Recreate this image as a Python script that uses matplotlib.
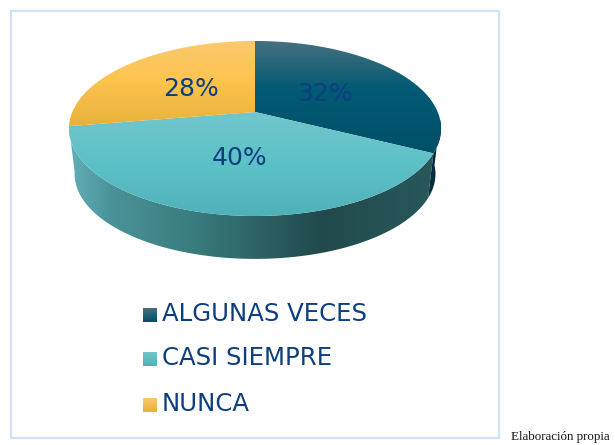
import numpy as np
import matplotlib
matplotlib.use("Agg")
import matplotlib.pyplot as plt
from matplotlib.colors import LinearSegmentedColormap
from matplotlib.patches import Polygon, Rectangle

categories = ["ALGUNAS VECES", "CASI SIEMPRE", "NUNCA"]
values = [32.4, 40.0, 27.6]

TXT = "#0d3f80"
# perspective of the pie, in pixels
cx, cy = 255, 112
bx, ay, p = 182.7, 84.4, 0.1886
depth, shrink = 46, 0.97

def rim(ang, r=1.0, low=False):
    # ang in degrees clockwise from 12 o'clock
    a = np.radians(ang)
    u = r*np.sin(a); v = r*np.cos(a)
    w = 1 + p*v
    s = shrink if low else 1
    return cx + s*bx*u/w, cy + (depth if low else 0) - s*ay*v/w

def grad(ax, poly, stops, y0, y1, vertical=True):
    # paints a gradient clipped to poly
    cm = LinearSegmentedColormap.from_list("g", [((t-y0)/(y1-y0), c) for t, c in stops])
    g = np.linspace(0, 1, 256)
    if vertical:
        im = ax.imshow(g[:, None], cmap=cm, extent=(0, 615, y1, y0), aspect="auto", zorder=poly.get_zorder())
    else:
        im = ax.imshow(g[None, :], cmap=cm, extent=(y0, y1, 445, 0), aspect="auto", zorder=poly.get_zorder())
    poly.set(fc="none", ec="none")
    ax.add_patch(poly)
    im.set_clip_path(poly)

top_stops = [
    [(41, "#46707f"), (90, "#005a73"), (155, "#004f68")],
    [(112, "#72c6cc"), (160, "#5dc2c8"), (216, "#4fb2b8")],
    [(41, "#fbc96e"), (80, "#fdc44e"), (128, "#e6b13a")],
]
side_stops = [(69, "#62b0b8"), (110, "#4b9399"), (200, "#377a7c"), (320, "#224a4c"), (435, "#28585a")]
dark_side = [(425, "#0a3a48"), (441, "#00202c")]

fig = plt.figure(figsize=(6.15, 4.45), dpi=100)
ax = fig.add_axes([0, 0, 1, 1])

edges = np.cumsum([0] + values)*3.6

# outer wall first
def wall(a0, a1):
    t = np.linspace(a0, a1, 150)
    xt, yt = rim(t)
    xb, yb = rim(t[::-1], low=True)
    return Polygon(np.c_[np.r_[xt, xb], np.r_[yt, yb]], closed=True, zorder=1)

grad(ax, wall(edges[1], edges[2]), side_stops, 69, 435, vertical=False)
grad(ax, wall(95, edges[1]), dark_side, 425, 441, vertical=False)

# top face
for i in range(3):
    t = np.linspace(edges[i], edges[i+1], 150)
    xs, ys = rim(t)
    poly = Polygon(np.c_[np.r_[cx, xs], np.r_[cy, ys]], closed=True, zorder=2)
    grad(ax, poly, top_stops[i], top_stops[i][0][0], top_stops[i][-1][0])

# percent labels, a bit lower than the middle of the glyph box
for i in range(3):
    lx, ly = rim((edges[i]+edges[i+1])/2, r=0.48)
    ax.text(lx-1, ly+2, "%d%%" % round(values[i]), color=TXT, fontsize=18, ha="center", va="center",
            family="DejaVu Sans", zorder=3)

# legend
leg_y = [315, 359, 405]
for i in range(3):
    sq = Rectangle((143, leg_y[i]-7), 14, 14, zorder=2)
    grad(ax, sq, [(leg_y[i]-7, top_stops[i][0][1]), (leg_y[i]+7, top_stops[i][-1][1])], leg_y[i]-7, leg_y[i]+7)
    ax.text(162, leg_y[i]-1, categories[i], color=TXT, fontsize=17.6, va="center", family="DejaVu Sans", zorder=3)

# frame
ax.add_patch(Rectangle((10.5, 11), 488.5, 427, fc="none", ec="#cfe2fb", lw=1.6, zorder=0))
ax.text(511, 437, "Elaboración propia", fontsize=9.4, family="Liberation Serif", color="#111111", va="center")

ax.set_xlim(0, 615)
ax.set_ylim(445, 0)
ax.axis("off")
fig.savefig("out.png", dpi=100)
